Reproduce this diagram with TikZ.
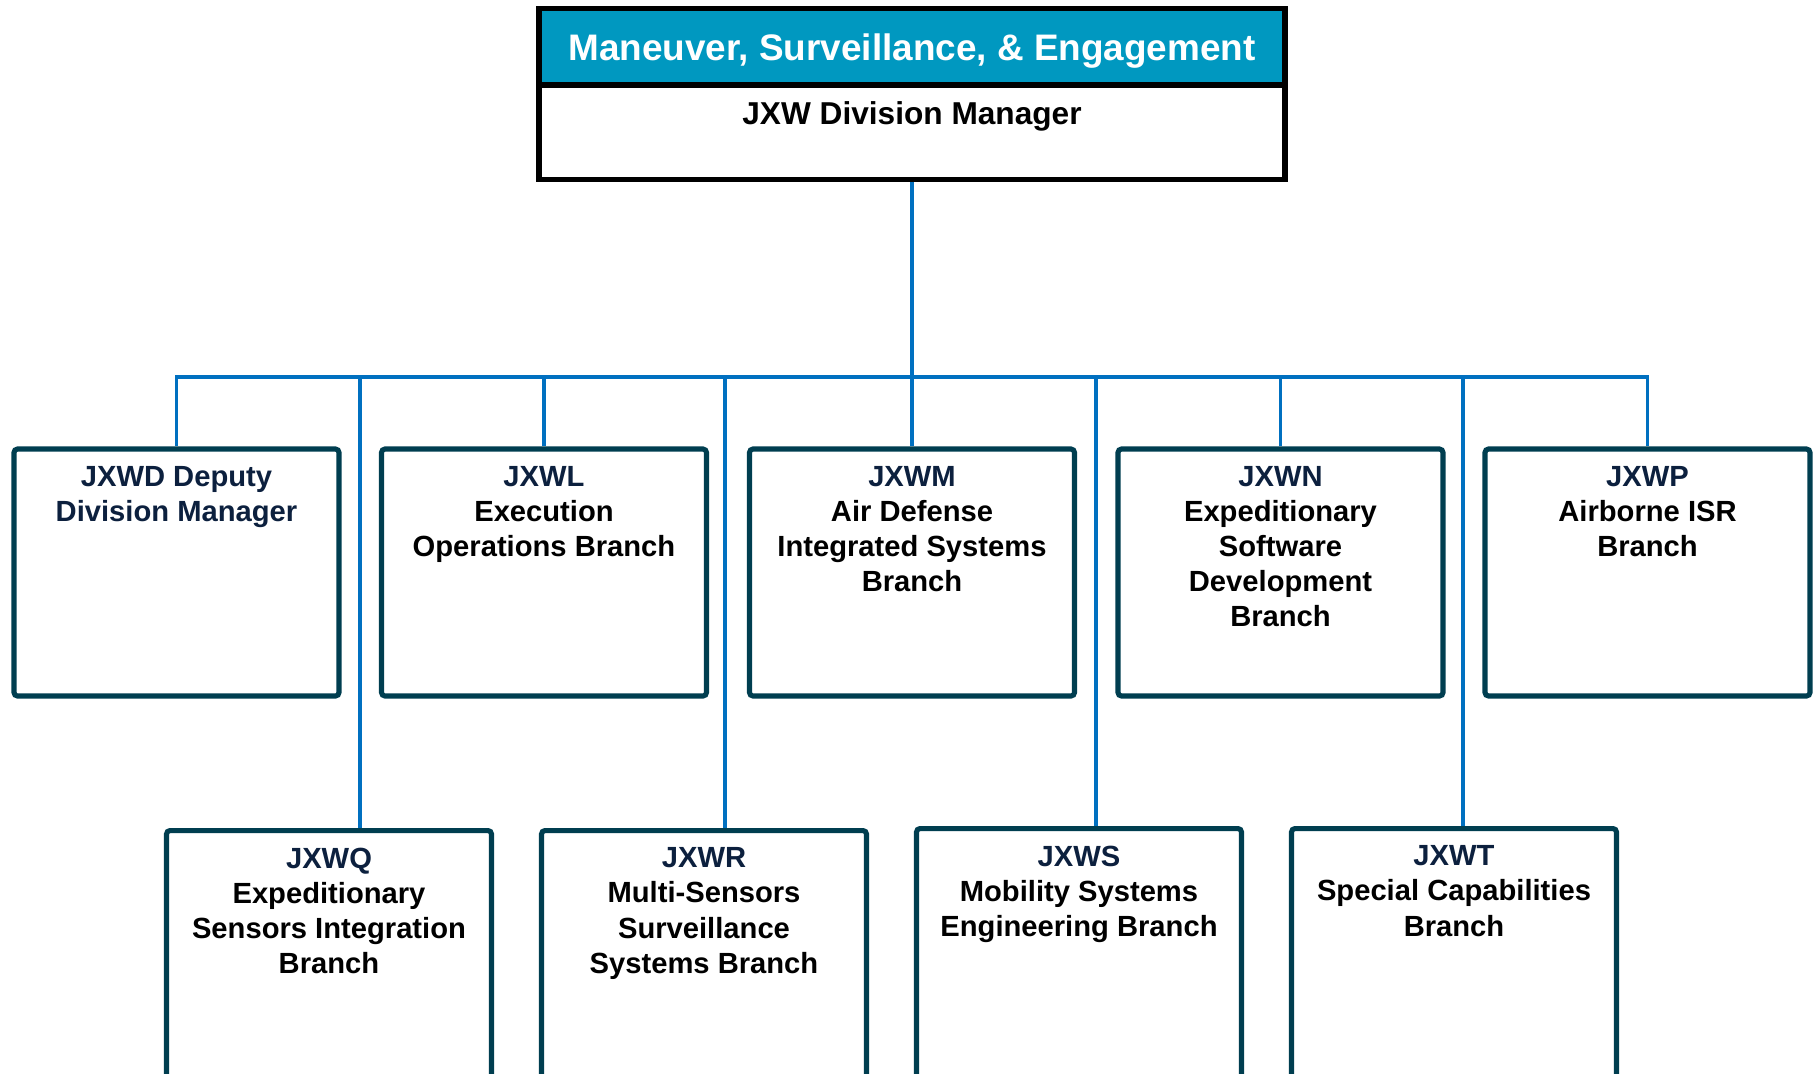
\documentclass[tikz,border=0pt]{standalone}
\usepackage{fontspec}
\setmainfont{Liberation Sans}
\usepackage{xcolor}
\usepackage{tikz}
\usetikzlibrary{calc,positioning}
\definecolor{bandteal}{RGB}{0,152,192}
\definecolor{linkblue}{RGB}{0,112,192}
\definecolor{boxedge}{RGB}{0,62,80}
\definecolor{codenavy}{RGB}{12,32,62}
\tikzset{
  branch/.style={draw=boxedge, line width=1.45pt, rounded corners=1pt, fill=white,
                 minimum width=3.25cm, minimum height=2.47cm, inner sep=0pt},
  lowbranch/.style={branch, anchor=north, minimum height=3.2cm},
  branchtext/.style={anchor=north, align=center, inner sep=0pt,
                     font=\bfseries\fontsize{8.3}{10}\selectfont},
  link/.style={draw=linkblue, line width=1pt}
}
\newcommand{\code}[1]{\textcolor{codenavy}{#1}}

\begin{document}
\begin{tikzpicture}
      \useasboundingbox (0,0) rectangle (18.15,-10.73);
      \clip (0,0) rectangle (18.15,-10.73);

      \fill[bandteal] (5.39,-0.08) rectangle (12.86,-0.85);
      \node[draw=black, line width=1.5pt, minimum width=7.46cm, minimum height=1.71cm, inner sep=0pt] (jxw) at (9.12,-0.94) {};
      \draw[line width=1.5pt] (jxw.west |- 0,-0.85) -- (jxw.east |- 0,-0.85);
      \node[text=white, font=\bfseries\fontsize{10.5}{12}\selectfont] (jxw-title) at (9.12,-0.51) {Maneuver, Surveillance, \& Engagement};
      \node[font=\bfseries\fontsize{9}{11}\selectfont] (jxw-name) at (9.12,-1.16) {JXW Division Manager};

      \node[branch] (jxwd) at (1.765,-5.725) {};
      \node[branch] (jxwl) at (5.44,-5.725) {};
      \node[branch] (jxwm) at (9.12,-5.725) {};
      \node[branch] (jxwn) at (12.805,-5.725) {};
      \node[branch] (jxwp) at (16.475,-5.725) {};

      \node[lowbranch] (jxwq) at (3.29,-8.28) {};
      \node[lowbranch] (jxwr) at (7.04,-8.28) {};
      \node[lowbranch] (jxws) at (10.79,-8.26) {};
      \node[lowbranch] (jxwt) at (14.54,-8.26) {};

      \node[branchtext] (jxwd-t) at ($(jxwd.north)+(0,-0.19)$) {\code{JXWD Deputy}\\\code{Division Manager}};
      \node[branchtext] (jxwl-t) at ($(jxwl.north)+(0,-0.19)$) {\code{JXWL}\\Execution\\Operations Branch};
      \node[branchtext] (jxwm-t) at ($(jxwm.north)+(0,-0.19)$) {\code{JXWM}\\Air Defense\\Integrated Systems\\Branch};
      \node[branchtext] (jxwn-t) at ($(jxwn.north)+(0,-0.19)$) {\code{JXWN}\\Expeditionary\\Software\\Development\\Branch};
      \node[branchtext] (jxwp-t) at ($(jxwp.north)+(0,-0.19)$) {\code{JXWP}\\Airborne ISR\\Branch};
      \node[branchtext] (jxwq-t) at ($(jxwq.north)+(0,-0.19)$) {\code{JXWQ}\\Expeditionary\\Sensors Integration\\Branch};
      \node[branchtext] (jxwr-t) at ($(jxwr.north)+(0,-0.19)$) {\code{JXWR}\\Multi-Sensors\\Surveillance\\Systems Branch};
      \node[branchtext] (jxws-t) at ($(jxws.north)+(0,-0.19)$) {\code{JXWS}\\Mobility Systems\\Engineering Branch};
      \node[branchtext] (jxwt-t) at ($(jxwt.north)+(0,-0.19)$) {\code{JXWT}\\Special Capabilities\\Branch};

      \coordinate (bus) at (9.12,-3.77);
      \coordinate (q-in) at ([xshift=0.31cm]jxwq.north);
      \coordinate (r-in) at ([xshift=0.21cm]jxwr.north);
      \coordinate (s-in) at ([xshift=0.17cm]jxws.north);
      \coordinate (t-in) at ([xshift=0.09cm]jxwt.north);

      \draw[link] (jxw.south) -- (bus);
      \draw[link] (jxwd.north) -- (jxwd.north |- bus) -- (jxwp.north |- bus) -- (jxwp.north);
      \foreach \b in {jxwl,jxwm,jxwn}
        \draw[link] (\b.north) -- (\b.north |- bus);
      \foreach \c in {q-in,r-in,s-in,t-in}
        \draw[link] (\c) -- (\c |- bus);
    \end{tikzpicture}
\end{document}
